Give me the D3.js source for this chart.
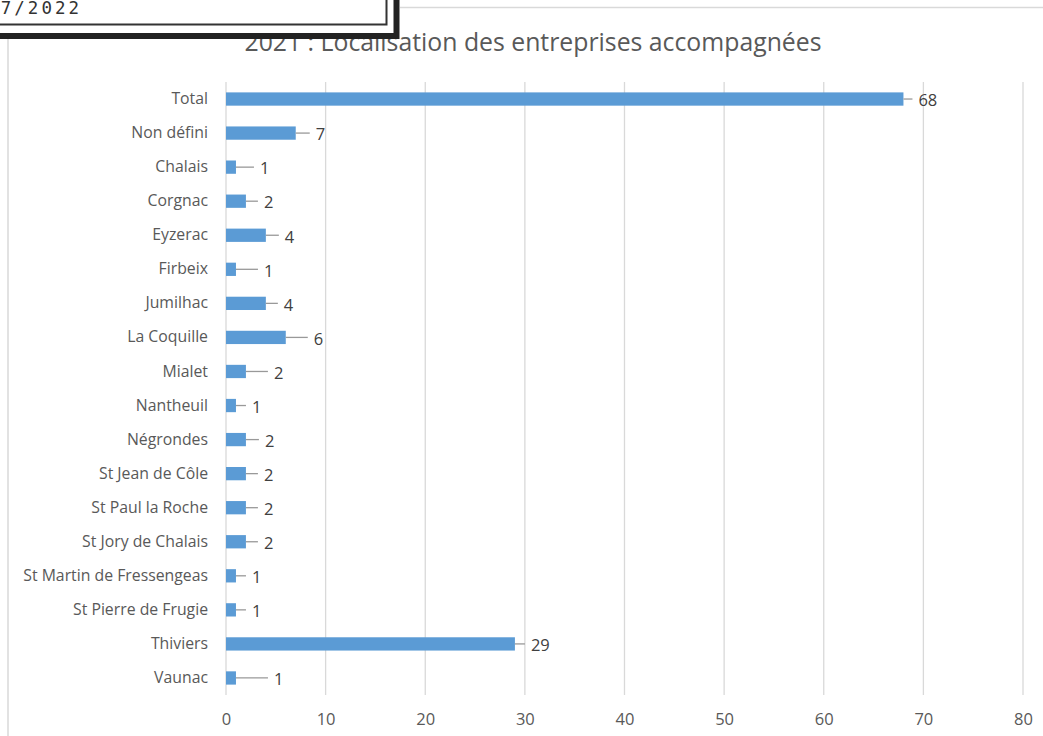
<!DOCTYPE html>
<html><head><meta charset="utf-8">
<script src="https://cdn.jsdelivr.net/npm/d3@7"></script>
<style>
html,body{margin:0;padding:0;background:#fff;}
svg{display:block;}
</style></head>
<body>
<svg id="chart" width="1043" height="736"></svg>
<script>
const categories = ["Total","Non défini","Chalais","Corgnac","Eyzerac","Firbeix","Jumilhac","La Coquille","Mialet","Nantheuil","Négrondes","St Jean de Côle","St Paul la Roche","St Jory de Chalais","St Martin de Fressengeas","St Pierre de Frugie","Thiviers","Vaunac"];
const values = [68,7,1,2,4,1,4,6,2,1,2,2,2,2,1,1,29,1];
const xTicks = [0,10,20,30,40,50,60,70,80];
const title = "2021 : Localisation des entreprises accompagnées";
const stampText = "7/2022";

// layout (leader line lengths for data labels, px)
const leaderLen = [9,14,18,12,13,22,12,22,22,10,13,12,12,12,10,10,10,32];

const svg = d3.select("#chart");
const W = 1043, H = 736;
const fontUI = "'Open Sans', 'Noto Sans', sans-serif";

// chart area border
svg.append("line").attr("x1",8).attr("x2",W).attr("y1",7.5).attr("y2",7.5).attr("stroke","#d9d9d9").attr("stroke-width",1.5);
svg.append("line").attr("x1",8).attr("x2",8).attr("y1",7).attr("y2",H).attr("stroke","#d9d9d9").attr("stroke-width",1.5);

const x = d3.scaleLinear().domain([0,80]).range([226,1023]);
const y = d3.scaleBand().domain(categories).range([82,695]).paddingInner(0.61).paddingOuter(0.305);

// gridlines
svg.append("g").selectAll("line").data(xTicks).join("line")
  .attr("x1",d=>x(d)).attr("x2",d=>x(d)).attr("y1",82).attr("y2",695)
  .attr("stroke","#d9d9d9").attr("stroke-width",1.3);

// bars
svg.append("g").selectAll("rect").data(values).join("rect")
  .attr("x",x(0)).attr("y",(d,i)=>y(categories[i]))
  .attr("width",d=>x(d)-x(0)).attr("height",y.bandwidth())
  .attr("fill","#5b9bd5");

// leader lines
svg.append("g").selectAll("line").data(values).join("line")
  .attr("x1",d=>x(d)).attr("x2",(d,i)=>x(d)+leaderLen[i])
  .attr("y1",(d,i)=>y(categories[i])+y.bandwidth()/2)
  .attr("y2",(d,i)=>y(categories[i])+y.bandwidth()/2)
  .attr("stroke","#999").attr("stroke-width",1.3);

// value labels
svg.append("g").selectAll("text").data(values).join("text")
  .attr("x",(d,i)=>x(d)+leaderLen[i]+6)
  .attr("y",(d,i)=>y(categories[i])+y.bandwidth()/2+1.5)
  .attr("dy","0.35em")
  .attr("font-family",fontUI).attr("font-size",16.5).attr("fill","#404040")
  .text(d=>d);

// y axis labels
const yAxis = d3.axisLeft(y).tickSize(0).tickPadding(0);
const gy = svg.append("g").attr("transform","translate(208,0)").call(yAxis);
gy.select(".domain").remove();
gy.selectAll("text").attr("font-family",fontUI).attr("font-size",15.8).attr("fill","#595959");

// x axis labels
const xAxis = d3.axisBottom(x).tickValues(xTicks).tickSize(0).tickPadding(0);
const gx = svg.append("g").attr("transform","translate(0,713)").call(xAxis);
gx.select(".domain").remove();
gx.selectAll("text").attr("font-family",fontUI).attr("font-size",16.5).attr("fill","#595959");

// title
svg.append("text").attr("x",533).attr("y",51)
  .attr("text-anchor","middle").attr("font-family",fontUI).attr("font-size",24.8)
  .attr("fill","#595959").text(title);

// overlay stamp box (top-left)
svg.append("rect").attr("x",-10).attr("y",-10).attr("width",410).attr("height",48).attr("fill","#fff");
svg.append("path").attr("d","M0,36 H396.5 V0").attr("fill","none").attr("stroke","#222").attr("stroke-width",6);
svg.append("path").attr("d","M0,24.5 H386.5 V0").attr("fill","none").attr("stroke","#333").attr("stroke-width",2);
svg.append("text").attr("x",82).attr("y",13.5).attr("text-anchor","end")
  .attr("font-family","'DejaVu Sans Mono', monospace").attr("font-size",17.5).attr("fill","#333")
  .attr("letter-spacing",3).text(stampText);
</script>
</body></html>
